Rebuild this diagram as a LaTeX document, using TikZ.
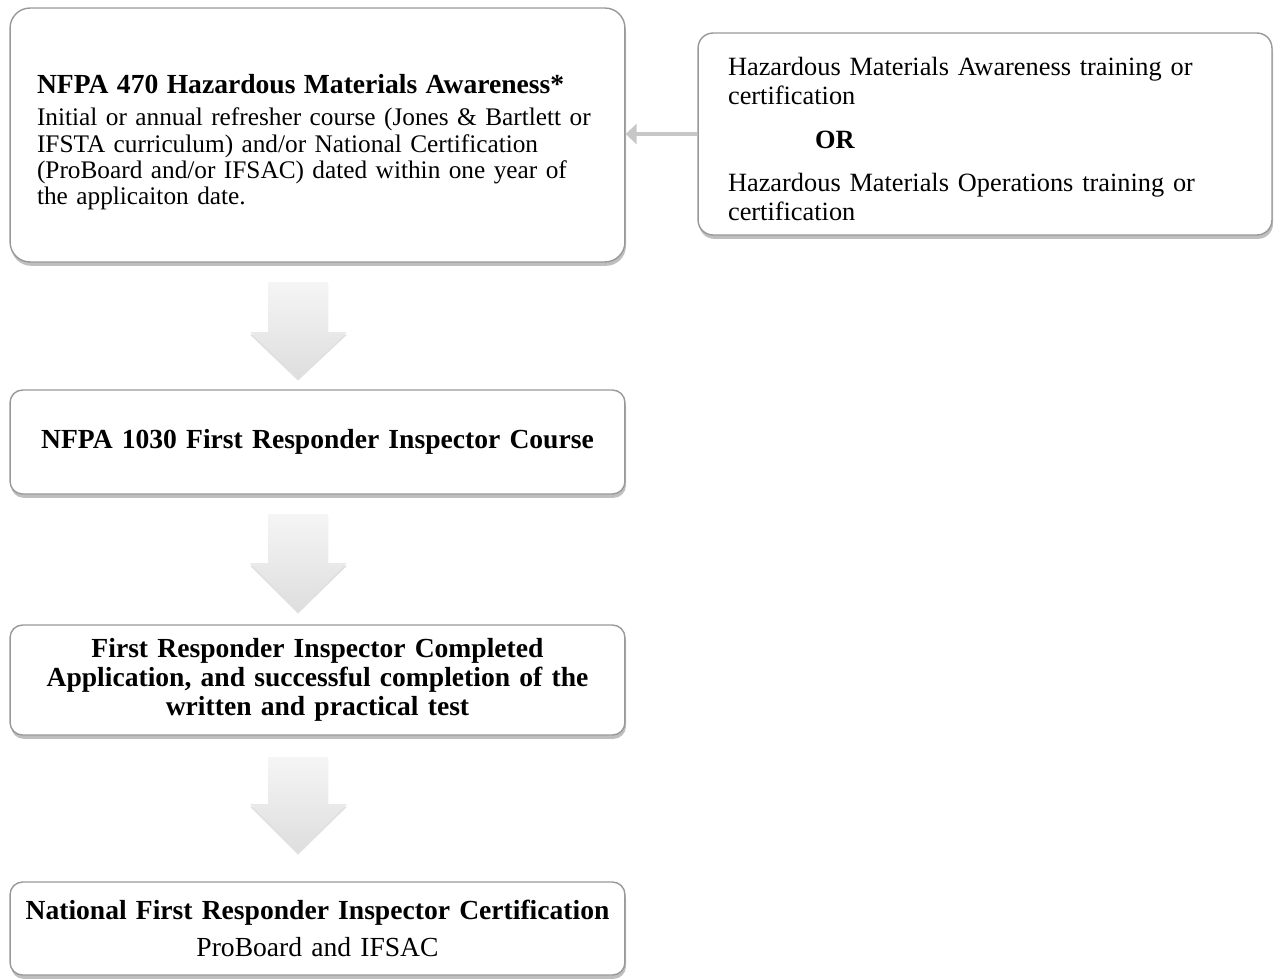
\documentclass[tikz,border=0pt]{standalone}
\usepackage{fontspec}
\setmainfont{Liberation Serif}
\usetikzlibrary{arrows.meta,shadows,positioning}

\newcommand{\cardfont}{\fontsize{15.7}{16.5}\selectfont}
\newcommand{\bodyfont}{\fontsize{14.4}{15}\selectfont}
\newcommand{\optfont}{\fontsize{15}{16.5}\selectfont}

\tikzset{
	card/.style={draw=black!40, line width=0.8pt, fill=white, rounded corners=0.25cm,
		drop shadow={shadow xshift=0.6pt, shadow yshift=-2.2pt, fill=black!50, opacity=0.5},
		minimum width=12.3cm, inner xsep=0.1cm, text width=12.1cm, align=center, font=\cardfont},
	blockarrow/.style={top color=black!4, bottom color=black!13, draw=none,
		drop shadow={shadow xshift=0pt, shadow yshift=-1.5pt, fill=black!30, opacity=0.4}},
	sidearrow/.style={draw=black!22, line width=2.6pt, -{Triangle[width=0.4cm,length=0.22cm]}}
}

\begin{document}
\begin{tikzpicture}[x=0.02cm, y=-0.02cm]
	\useasboundingbox (0,0) rectangle (1284,978);

	% boxes
	\node[card, rounded corners=0.4cm, minimum height=5.08cm, inner xsep=0.54cm, text width=11.22cm,
		align=left, font=\bodyfont] (haz) at (317.5,135)
		{\rule{0pt}{19pt}{\fontsize{15.7}{15}\selectfont\bfseries NFPA 470 Hazardous Materials Awareness*}\\[3.7pt]
		Initial or annual refresher course (Jones \& Bartlett or\\
		IFSTA curriculum) and/or National Certification\\
		(ProBoard and/or IFSAC) dated within one year of\\
		the applicaiton date.};

	\node[card, rounded corners=0.3cm, minimum width=11.48cm, minimum height=4.04cm, inner xsep=0.6cm,
		text width=10.28cm, align=left, font=\optfont] (opt) at (985,134)
		{\rule{0pt}{16.5pt}Hazardous Materials Awareness training or\\
		certification\\[8.5pt]
		\hspace*{1.74cm}\textbf{OR}\\[8pt]
		Hazardous Materials Operations training or\\
		certification};

	\node[card, minimum height=2.08cm, font=\cardfont\bfseries] (course) at (317.5,442)
		{NFPA 1030 First Responder Inspector Course};

	\node[card, minimum height=2.2cm, font=\cardfont\bfseries] (app) at (317.5,680)
		{First Responder Inspector Completed\\
		Application, and successful completion of the\\
		written and practical test};

	\node[card, minimum height=1.86cm] (cert) at (317.5,928.5)
		{\textbf{National First Responder Inspector Certification}\\[4.5pt]
		ProBoard and IFSAC};

	% block arrows between the steps
	\foreach \t/\b/\p in {282/332/378, 514/563/611, 757/804/852}
		\path[blockarrow] (268,\t) -- (328,\t) -- (328,\b) -- (347,\b) -- (298,\p) -- (250,\b) -- (268,\b) -- cycle;

	% side connector
	\draw[sidearrow] (opt.west) -- (opt.west -| haz.east);
\end{tikzpicture}
\end{document}
